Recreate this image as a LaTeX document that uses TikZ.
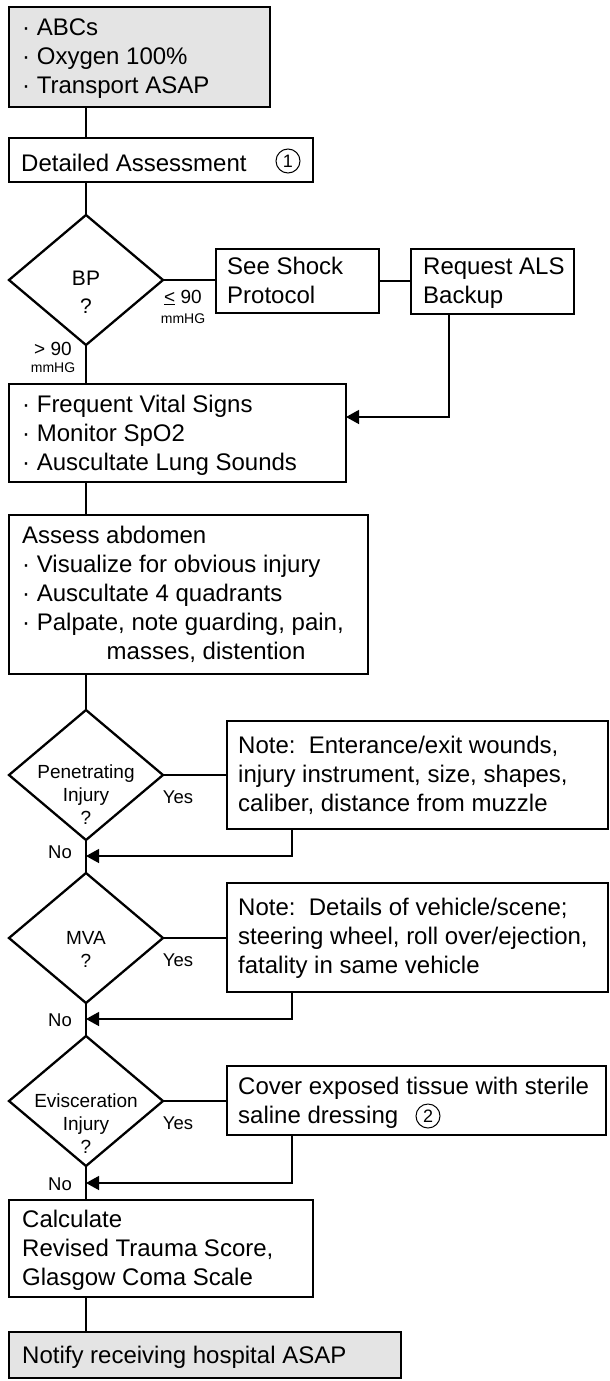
\documentclass[tikz,border=0pt]{standalone}
\usepackage{fontspec}
\setmainfont{Liberation Sans}
\usetikzlibrary{shapes.geometric,arrows.meta}
\definecolor{boxgray}{RGB}{228,228,228}
\begin{document}
\begin{tikzpicture}[x=1pt,y=-1pt,
  box/.style={draw, line width=1.3pt, anchor=north west, inner sep=0pt, outer sep=0pt},
  gbox/.style={box, line width=2.8pt, fill=boxgray},
  dia/.style={draw, diamond, line width=2.3pt, inner sep=0pt, outer sep=0pt, minimum width=154pt, minimum height=130pt},
  tx/.style={anchor=north west, inner sep=0pt, align=left, yshift=20.3pt, font=\fontsize{24}{29}\selectfont},
  dtx/.style={anchor=north, inner sep=0pt, align=center, yshift=16.1pt, font=\fontsize{19}{23}\selectfont},
  btx/.style={anchor=north, inner sep=0pt, align=center, yshift=19.6pt, font=\fontsize{21}{28}\selectfont},
  lbl/.style={anchor=base, inner sep=0pt, font=\fontsize{18.5}{21}\selectfont},
  lblb/.style={anchor=base, inner sep=0pt, font=\fontsize{19}{22}\selectfont},
  sml/.style={anchor=base, inner sep=0pt, font=\fontsize{14}{17}\selectfont},
  num/.style={circle, draw, line width=1pt, minimum size=24pt, inner sep=0pt, font=\fontsize{18}{20}\selectfont},
  conn/.style={line width=1.3pt},
  arr/.style={line width=1.3pt, -{Triangle[length=13pt,width=14pt]}}
]
\useasboundingbox (0,0) rectangle (610,1381);

% boxes
\node[gbox, minimum width=261pt, minimum height=100pt] (top) at (9,7) {};
\node[box, minimum width=304pt, minimum height=44pt] (da) at (9,138) {};
\node[dia] (bp) at (86,280) {};
\node[box, minimum width=163pt, minimum height=64pt] (shock) at (216,249) {};
\node[box, minimum width=163pt, minimum height=65pt] (als) at (411,249) {};
\node[box, minimum width=337pt, minimum height=98pt] (freq) at (9,384) {};
\node[box, minimum width=359pt, minimum height=159pt] (abd) at (9,515) {};
\node[dia] (pen) at (86,775) {};
\node[box, minimum width=381pt, minimum height=108pt] (note1) at (227,721) {};
\node[dia] (mva) at (86,938) {};
\node[box, minimum width=381pt, minimum height=109pt] (note2) at (227,883) {};
\node[dia] (evi) at (86,1101) {};
\node[box, minimum width=379pt, minimum height=69pt] (cover) at (227,1066) {};
\node[box, minimum width=304pt, minimum height=97pt] (calc) at (9,1200) {};
\node[gbox, minimum width=392pt, minimum height=46pt] (notify) at (9,1332) {};

% texts
\node[tx] (ttop) at (22,35) {\strut· ABCs\\\strut· Oxygen 100\%\\\strut· Transport ASAP};
\node[tx] (tda) at (21,171) {\strut Detailed Assessment};
\node[num] (n1) at (288,161) {1};
\node[btx] (tbp) at (86,285) {\strut BP\\\strut ?};
\node[tx] (tshock) at (227,274) {\strut See Shock\\\strut Protocol};
\node[tx] (tals) at (423,274) {\strut Request ALS\\\strut Backup};
\node[tx] (tfreq) at (22,412) {\strut· Frequent Vital Signs\\\strut· Monitor SpO2\\\strut· Auscultate Lung Sounds};
\node[tx] (tabd) at (22,543) {\strut Assess abdomen\\\strut· Visualize for obvious injury\\\strut· Auscultate 4 quadrants\\\strut· Palpate, note guarding, pain,\\\strut\hspace*{84.5pt}masses, distention};
\node[dtx] (tpen) at (86,778) {\strut Penetrating\\\strut Injury\\\strut ?};
\node[tx] (tnote1) at (238,753) {\strut Note:\ \ Enterance/exit wounds,\\\strut injury instrument, size, shapes,\\\strut caliber, distance from muzzle};
\node[dtx] (tmva) at (86,944) {\strut MVA\\\strut ?};
\node[tx] (tnote2) at (238,915) {\strut Note:\ \ Details of vehicle/scene;\\\strut steering wheel, roll over/ejection,\\\strut fatality in same vehicle};
\node[dtx] (tevi) at (86,1107) {\strut Evisceration\\\strut Injury\\\strut ?};
\node[tx] (tcover) at (238,1094) {\strut Cover exposed tissue with sterile\\\strut saline dressing};
\node[num] (n2) at (428,1116) {2};
\node[tx] (tcalc) at (22,1227) {\strut Calculate\\\strut Revised Trauma Score,\\\strut Glasgow Coma Scale};
\node[tx] (tnotify) at (22,1363) {\strut Notify receiving hospital ASAP};

% edge labels
\node[lblb] (gt) at (53,355) {> 90};
\node[sml] (gtu) at (53,372) {mmHG};
\node[lblb] (le) at (183,303) {\underline{<} 90};
\node[sml] (leu) at (183,323) {mmHG};
\node[lbl] (y1) at (178,803) {Yes};
\node[lbl] (y2) at (178,966) {Yes};
\node[lbl] (y3) at (178,1129) {Yes};
\node[lbl] (no1) at (60,858) {No};
\node[lbl] (no2) at (60,1026) {No};
\node[lbl] (no3) at (60,1190) {No};

% turning points
\coordinate (c1) at (449,417);
\coordinate (c2) at (292,856);
\coordinate (c3) at (292,1019);
\coordinate (c4) at (292,1183);

% connectors
\draw[conn] (top.south -| bp.north) -- (da.north -| bp.north);
\draw[conn] (da.south -| bp.north) -- (bp.north);
\draw[conn] (bp.east) -- (shock.west |- bp.east);
\draw[conn] (shock.east) -- (als.west |- shock.east);
\draw[arr] (als.south -| c1) |- (freq.east |- c1);
\draw[conn] (bp.south) -- (freq.north -| bp.south);
\draw[conn] (freq.south -| bp.south) -- (abd.north -| bp.south);
\draw[conn] (abd.south -| bp.south) -- (pen.north);
\draw[conn] (pen.east) -- (note1.west |- pen.east);
\draw[conn] (pen.south) -- (mva.north);
\draw[arr] (note1.south -| c2) |- (pen.south |- c2);
\draw[conn] (mva.east) -- (note2.west |- mva.east);
\draw[conn] (mva.south) -- (evi.north);
\draw[arr] (note2.south -| c3) |- (mva.south |- c3);
\draw[conn] (evi.east) -- (cover.west |- evi.east);
\draw[conn] (evi.south) -- (calc.north -| evi.south);
\draw[arr] (cover.south -| c4) |- (evi.south |- c4);
\draw[conn] (calc.south -| evi.south) -- (notify.north -| evi.south);
\end{tikzpicture}
\end{document}
